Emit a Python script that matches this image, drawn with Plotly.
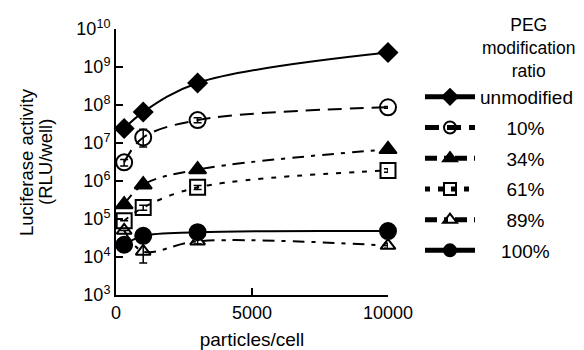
import plotly.graph_objects as go

particles = [300, 1000, 3000, 10000]

series_names = ["unmodified", "10%", "34%", "61%", "89%", "100%"]
unmodified = [2.4e7, 6.5e7, 3.8e8, 2.4e9]
peg10 = [3.1e6, 1.4e7, 4.0e7, 8.7e7]
peg34 = [2.4e5, 8.0e5, 2.0e6, 6.8e6]
peg61 = [9.0e4, 2.0e5, 6.8e5, 1.9e6]
peg89 = [5.0e4, 1.4e4, 2.6e4, 2.0e4]
peg100 = [2.1e4, 3.6e4, 4.5e4, 4.8e4]

err10_up = [0.6e6, 0.9e7, 0.6e7, 0.5e7]
err10_dn = [0.6e6, 6.2e6, 0.6e7, 0.5e7]
err61_up = [0, 0.3e5, 0.8e5, 0.2e6]
err61_dn = [0, 0.3e5, 0.8e5, 0.2e6]
err89_up = [0, 1.2e4, 0.4e4, 0.3e4]
err89_dn = [0, 7.0e3, 0.4e4, 0.3e4]

ytick_vals = [10 ** k for k in range(3, 11)]
ytick_text = ["10<sup>%d</sup>" % k for k in range(3, 11)]
xtick_vals = [0, 5000, 10000]

legend_title_lines = ["PEG", "modification", "ratio"]
y_title_lines = ["Luciferase activity", "(RLU/well)"]
x_title = "particles/cell"

pad = {"unmodified": 0, "100%": 4}
legend_labels = ["\u00a0" * pad.get(n, 5) + n for n in series_names]

black = "black"
styles = [
    dict(y=unmodified, symbol="diamond", size=14, dash="solid", eu=None, ed=None),
    dict(y=peg10, symbol="circle-open", size=16, dash="14px,8px", eu=err10_up, ed=err10_dn),
    dict(y=peg34, symbol="triangle-up", size=15, dash="12px,7px,4px,7px", eu=None, ed=None),
    dict(y=peg61, symbol="square-open", size=15, dash="5px,8px", eu=err61_up, ed=err61_dn),
    dict(y=peg89, symbol="triangle-up-open", size=13, dash="12px,7px,4px,7px", eu=err89_up, ed=err89_dn),
    dict(y=peg100, symbol="circle", size=16, dash="solid", eu=None, ed=None),
]

fig = go.Figure()
for i, (name, st) in enumerate(zip(legend_labels, styles)):
    err = None
    if st["eu"] is not None:
        err = dict(type="data", array=st["eu"], arrayminus=st["ed"], symmetric=False,
                   color=black, thickness=1.5, width=4)
    fig.add_trace(go.Scatter(
        x=particles, y=st["y"], name=name, mode="lines+markers",
        legendgroup="g%d" % i,
        line=dict(color=black, width=2, dash=st["dash"], shape="spline", smoothing=1.0),
        marker=dict(symbol=st["symbol"], size=st["size"], color=black,
                    line=dict(color=black, width=2)),
        error_y=err,
        cliponaxis=False,
    ))

font_family = "Liberation Sans, Arial, Helvetica, sans-serif"
L, R, T, B = 116, 196, 29, 55
W, H = 584, 350
PW, PH = W - L - R, H - T - B


def px_x(x):
    return (x - L) / PW


def px_y(y):
    return 1 - (y - T) / PH


annotations = [dict(text="<br>".join(legend_title_lines), xref="paper", yref="paper",
                    x=px_x(528), y=px_y(48), xanchor="center", yanchor="middle",
                    align="center", showarrow=False, font=dict(size=17.5))]
for line_text, xpix in zip(y_title_lines, [26, 45]):
    annotations.append(dict(text=line_text, xref="paper", yref="paper", textangle=-90,
                            x=px_x(xpix), y=px_y(162), xanchor="center", yanchor="middle",
                            showarrow=False, font=dict(size=18.5)))

fig.update_layout(
    width=W, height=H,
    margin=dict(l=L, r=R, t=T, b=B, autoexpand=False),
    paper_bgcolor="white", plot_bgcolor="white",
    font=dict(family=font_family, size=19, color="black"),
    showlegend=True,
    legend=dict(x=px_x(420), xanchor="left", y=px_y(78), yanchor="top",
                font=dict(size=19), itemwidth=50, tracegroupgap=3, itemsizing="constant",
                traceorder="grouped", bgcolor="rgba(0,0,0,0)"),
    xaxis=dict(range=[0, 10000], tickvals=xtick_vals, ticktext=[str(v) for v in xtick_vals],
               ticks="inside", ticklen=7, tickwidth=2, tickcolor=black,
               showline=True, linewidth=2, linecolor=black, showgrid=False, zeroline=False,
               tickfont=dict(size=18),
               title=dict(text=x_title, font=dict(size=19), standoff=11)),
    yaxis=dict(type="log", range=[3, 10], tickvals=ytick_vals, ticktext=ytick_text,
               ticks="inside", ticklen=7, tickwidth=2, tickcolor=black,
               showline=True, linewidth=2, linecolor=black, showgrid=False, zeroline=False,
               tickfont=dict(size=18)),
    annotations=annotations,
)

fig.write_html(
    "out.html",
    config={"displayModeBar": False},
    post_script="document.body.style.margin='0';document.body.style.padding='0';"
                "document.body.style.overflow='hidden';",
)
